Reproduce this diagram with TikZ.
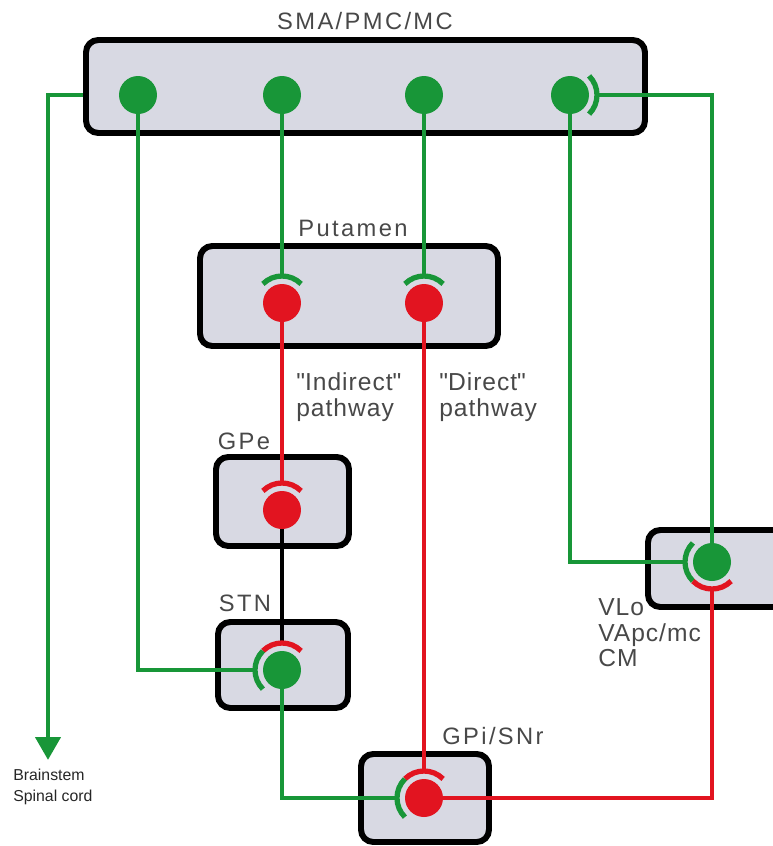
\documentclass[tikz,border=0pt]{standalone}
\usepackage{fontspec}
\setmainfont{Liberation Sans}
\usetikzlibrary{calc,arrows.meta}
\pgfdeclarelayer{back}
\pgfdeclarelayer{wires}
\pgfsetlayers{back,wires,main}
\definecolor{grn}{RGB}{24,150,56}
\definecolor{rd}{RGB}{226,20,32}
\definecolor{boxfill}{RGB}{216,217,227}
\definecolor{txt}{RGB}{72,72,72}
\begin{document}
\begin{tikzpicture}[x=0.02cm, y=-0.02cm,
  region/.style={draw=black, line width=3.4pt, rounded corners=7pt, fill=boxfill},
  neuron/.style={circle, fill=#1, inner sep=0pt, minimum size=0.76cm},
  axon/.style={draw=#1, line width=2.8pt},
  syn/.style={draw=#1, line width=3pt},
  lbl/.style={text=txt, inner sep=0pt, font=\fontsize{13.5}{16}\selectfont\addfontfeature{LetterSpace=10}},
  pathlbl/.style={text=txt, inner sep=0pt, align=left, anchor=west, font=\fontsize{14}{14.5}\selectfont\addfontfeature{LetterSpace=4}}]
\useasboundingbox (0,0) rectangle (772,846);

\foreach \n/\x/\y/\c in {s1/138/95/grn, s2/282/95/grn, s3/424/95/grn, s4/570/95/grn,
  p1/282/303/rd, p2/424/303/rd, gpe/282/510/rd, stn/282/670/grn,
  gpi/424/798/rd, vlo/712/562/grn} {
  \node[neuron=\c] (\n) at (\x,\y) {};
}
\coordinate (bs) at (48,760);

\begin{pgfonlayer}{back}
\draw[axon=grn, -{Triangle[width=14pt,length=13pt]}] (s1) -| (bs);
\draw[region] (86,40) rectangle (645,133);
\draw[region] (200,246) rectangle (498,346);
\draw[region] (216,457) rectangle (349,546);
\draw[region] (218,622) rectangle (348,708);
\draw[region] (361,754) rectangle (489,842);
\draw[region] (648,530) rectangle (790,607);
\end{pgfonlayer}

\begin{pgfonlayer}{wires}
\draw[axon=grn] (s1) |- ($(stn)+(180:27)$);
\draw[axon=grn] (s2) -- ($(p1)+(270:27)$);
\draw[axon=grn] (s3) -- ($(p2)+(270:27)$);
\draw[axon=grn] (s4) |- ($(vlo)+(180:27)$);
\draw[axon=grn] (vlo) |- ($(s4)+(0:27)$);
\draw[axon=grn] (stn) |- ($(gpi)+(180:27)$);
\draw[axon=rd] (p1) -- ($(gpe)+(270:27)$);
\draw[axon=rd] (p2) -- ($(gpi)+(270:27)$);
\draw[axon=black] (gpe) -- ($(stn)+(270:27)$);
\draw[axon=rd] (gpi) -| ($(vlo)+(90:27)$);
\end{pgfonlayer}

\foreach \n/\a/\c in {s4/0/grn, p1/270/grn, p2/270/grn, gpe/270/rd, stn/270/rd,
  stn/180/grn, gpi/270/rd, gpi/180/grn, vlo/180/grn, vlo/90/rd} {
  \draw[syn=\c] ($(\n)+(\a-45:27)$) arc[start angle=\a-45, end angle=\a+45, radius=27];
}

\node[lbl] (smalbl) at (365,21) {SMA/PMC/MC};
\node[lbl] (putlbl) at (353,228) {Putamen};
\node[lbl] (gpelbl) at (244,441) {GPe};
\node[lbl] (stnlbl) at (245,603) {STN};
\node[lbl] (gpilbl) at (493,736) {GPi/SNr};
\node[pathlbl] (indlbl) at (296,397) {\textquotedbl Indirect\textquotedbl\\pathway};
\node[pathlbl] (dirlbl) at (439,397) {\textquotedbl Direct\textquotedbl\\pathway};
\node[pathlbl] (vlolbl) at (598,633) {VLo\\VApc/mc\\CM};
\node[text=black!85, inner sep=0pt, align=left, anchor=west, font=\fontsize{9}{12}\selectfont] (bslbl) at (13,787) {Brainstem\\Spinal cord};
\end{tikzpicture}
\end{document}
